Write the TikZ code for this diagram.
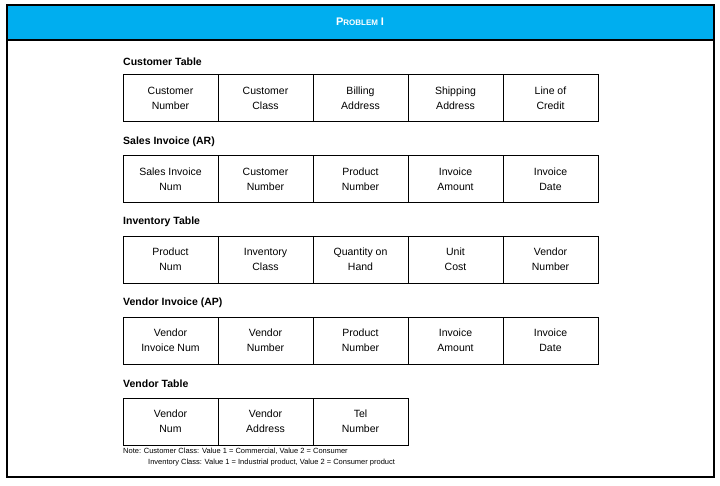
\documentclass[tikz,border=0pt]{standalone}
\usepackage{fontspec}
\setmainfont{Liberation Sans}
\usetikzlibrary{positioning}
\definecolor{headblue}{HTML}{00AEEF}
\begin{document}
\begin{tikzpicture}[x=1pt,y=-1pt,
cell/.style={
  draw,
  thick,
  minimum width=95pt,
  minimum height=47pt,
  inner sep=0pt,
  align=center,
  font=\fontsize{10.5}{15}\selectfont
},
title/.style={
  anchor=west,
  inner sep=0pt,
  font=\fontsize{10.5}{12}\selectfont\bfseries
}
]
\useasboundingbox (0,0) rectangle (720,485);
\fill[headblue] (7,5) rectangle (714,40);
\draw[line width=1.6pt] (7,5) rectangle (714,477);
\draw[line width=1.6pt] (7,40) -- (714,40);
\node[text=white,font=\bfseries] (head) at (360,22)
  {{\fontsize{11}{12}\selectfont P}{\fontsize{8}{10}\selectfont ROBLEM} {\fontsize{11}{12}\selectfont I}};

% tables
\node[title] (t1) at (123,62) {Customer Table};
\foreach \txt [count=\i] in {{Customer\\Number},{Customer\\Class},{Billing\\Address},{Shipping\\Address},{Line of\\Credit}}
  \node[cell] (cust\i) at (75.5+95*\i,98) {\txt};

\node[title] (t2) at (123,142) {Sales Invoice (AR)};
\foreach \txt [count=\i] in {{Sales Invoice\\Num},{Customer\\Number},{Product\\Number},{Invoice\\Amount},{Invoice\\Date}}
  \node[cell] (sale\i) at (75.5+95*\i,179) {\txt};

\node[title] (t3) at (123,222) {Inventory Table};
\foreach \txt [count=\i] in {{Product\\Num},{Inventory\\Class},{Quantity on\\Hand},{Unit\\Cost},{Vendor\\Number}}
  \node[cell] (inv\i) at (75.5+95*\i,259.5) {\txt};

\node[title] (t4) at (123,303) {Vendor Invoice (AP)};
\foreach \txt [count=\i] in {{Vendor\\Invoice Num},{Vendor\\Number},{Product\\Number},{Invoice\\Amount},{Invoice\\Date}}
  \node[cell] (vinv\i) at (75.5+95*\i,340.5) {\txt};

\node[title] (t5) at (123,384) {Vendor Table};
\foreach \txt [count=\i] in {{Vendor\\Num},{Vendor\\Address},{Tel\\Number}}
  \node[cell] (vend\i) at (75.5+95*\i,421.5) {\txt};

% note
\node[anchor=north west,inner sep=0pt,align=left,font=\fontsize{7.5}{11}\selectfont] (note) at (123,448)
  {Note: Customer Class: Value 1 = Commercial, Value 2 = Consumer\\
   \hspace*{25pt}Inventory Class: Value 1 = Industrial product, Value 2 = Consumer product};
\end{tikzpicture}
\end{document}
